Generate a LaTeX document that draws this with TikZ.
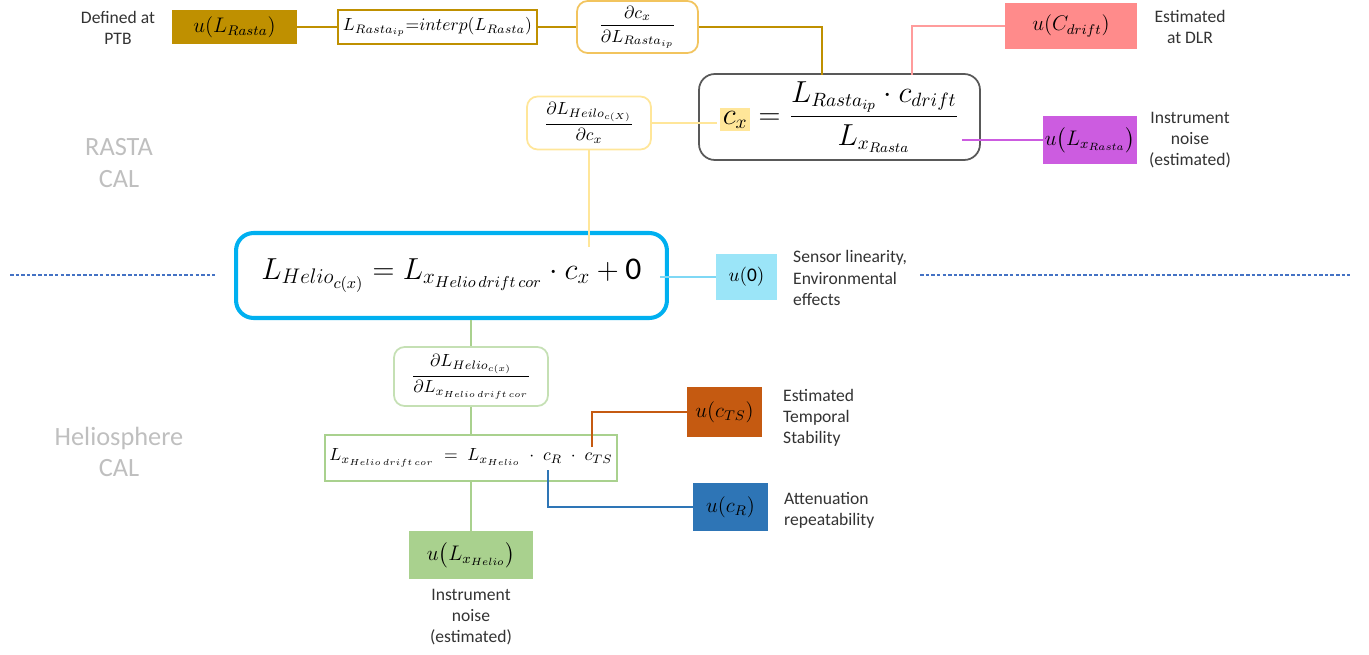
\documentclass[tikz,border=0pt]{standalone}
\usepackage{amsmath}
\usepackage{fontspec}
\setmainfont{Carlito}
\definecolor{gold}{HTML}{BF9000}
\definecolor{goldl}{HTML}{F2C45E}
\definecolor{yell}{HTML}{FFE699}
\definecolor{pinkf}{HTML}{FF8B8B}
\definecolor{pinkl}{HTML}{FF9C9C}
\definecolor{purp}{HTML}{CC5CE0}
\definecolor{cyanb}{HTML}{00B0F0}
\definecolor{cyanf}{HTML}{9BE5F8}
\definecolor{cyanl}{HTML}{7FD8F5}
\definecolor{greenl}{HTML}{C5E0B4}
\definecolor{greenm}{HTML}{A9D18E}
\definecolor{orng}{HTML}{C55A11}
\definecolor{blu}{HTML}{2E75B6}
\definecolor{divc}{HTML}{4472C4}
\tikzset{
  unc/.style={rectangle,inner sep=0pt,text=black,font=\fontsize{12}{14}\selectfont},
  eqb/.style={rectangle,fill=white,line width=1.1pt,inner sep=0pt,font=\fontsize{10}{12}\selectfont},
  drv/.style={rectangle,rounded corners=6pt,fill=white,line width=1pt,inner sep=0pt,font=\fontsize{10}{12}\selectfont},
  lnk/.style={line width=1.1pt},
  lb/.style={align=center,font=\fontsize{10}{12}\selectfont,text=black!80},
  sec/.style={align=center,font=\fontsize{15}{18}\selectfont,text=black!25},
  divl/.style={draw=divc,dashed,dash pattern=on 2pt off 1.2pt,line width=.6pt},
}
\begin{document}
\begin{tikzpicture}[x=0.02cm,y=-0.02cm]
\useasboundingbox (0,0) rectangle (1369,655);
% sections
\node[sec] (tRC) at (119,163) {RASTA\\CAL};
\node[sec] (tHC) at (119,452) {Heliosphere\\CAL};
\draw[divl] (10,275) -- (215,275) (920,275) -- (1350,275);

% RASTA CAL
\node[lb] (tPTB) at (118,28) {Defined at\\PTB};
\node[unc,fill=gold,minimum width=2.5cm,minimum height=.68cm] (uLR) at (234.5,27) {$u(L_{Rasta})$};
\node[eqb,draw=gold,minimum width=3.98cm,minimum height=.68cm] (ip) at (437.5,27)
  {$L_{Rasta_{ip}}{=}interp(L_{Rasta})$};
\node[drv,draw=goldl,minimum width=2.42cm,minimum height=1.04cm] (dcx) at (637.5,27)
  {$\dfrac{\partial c_x}{\partial L_{Rasta_{ip}}}$};
\node[drv,draw=black!65,rounded corners=9pt,minimum width=5.62cm,minimum height=1.72cm,
  font=\fontsize{16}{18}\selectfont] (cx) at (839.5,117)
  {\setlength{\fboxsep}{1.5pt}\colorbox{yell}{$c_x$}$\;=\dfrac{L_{Rasta_{ip}}\cdot c_{drift}}{L_{x_{Rasta}}}$};
\node[unc,fill=pinkf,minimum width=2.64cm,minimum height=.92cm] (uCd) at (1071,26) {$u(C_{drift})$};
\node[lb] (tDLR) at (1190,27) {Estimated\\at DLR};
\node[unc,fill=purp,minimum width=1.88cm,minimum height=.98cm] (uLx) at (1090,140) {$u\bigl(L_{x_{Rasta}}\bigr)$};
\node[lb] (tNR) at (1190,140) {Instrument\\noise\\(estimated)};
\node[drv,draw=yell,minimum width=2.48cm,minimum height=1.06cm] (dHc) at (589,123)
  {$\dfrac{\partial L_{Heilo_{c(X)}}}{\partial c_x}$};

% Heliosphere CAL
\node[drv,draw=cyanb,line width=2.3pt,rounded corners=10pt,minimum width=8.62cm,minimum height=1.7cm,
  font=\fontsize{18}{20}\selectfont] (hel) at (451.5,275.5)
  {$L_{Helio_{c(x)}}=L_{x_{Helio\,drift\,cor}}\cdot c_x+\text{0}$};
\node[unc,fill=cyanf,minimum width=1.22cm,minimum height=.92cm,font=\fontsize{11}{13}\selectfont] (u0) at (746.5,277) {$u(\text{0})$};
\node[lb,anchor=west,align=left] (tSL) at (787,278) {Sensor linearity,\\Environmental\\effects};
\node[drv,draw=greenl,minimum width=3.08cm,minimum height=1.18cm] (dHL) at (471,376.5)
  {$\dfrac{\partial L_{Helio_{c(x)}}}{\partial L_{x_{Helio\,drift\,cor}}}$};
\node[eqb,draw=greenm,minimum width=5.84cm,minimum height=.92cm,font=\fontsize{10}{12}\selectfont] (eqH) at (471,458)
  {$L_{x_{Helio\,drift\,cor}}\;=\;L_{x_{Helio}}\;\cdot\;c_R\;\cdot\;c_{TS}$};
\node[unc,fill=greenm,minimum width=2.48cm,minimum height=.96cm] (uLH) at (471,555) {$u\bigl(L_{x_{Helio}}\bigr)$};
\node[lb] (tNH) at (471,617) {Instrument\\noise\\(estimated)};
\node[unc,fill=orng,minimum width=1.5cm,minimum height=1cm] (uTS) at (724.5,412) {$u(c_{TS})$};
\node[lb,anchor=west,align=left] (tTS) at (777,418) {Estimated\\Temporal\\Stability};
\node[unc,fill=blu,minimum width=1.5cm,minimum height=.96cm] (uR) at (730.5,507) {$u(c_R)$};
\node[lb,anchor=west,align=left] (tR) at (778,510) {Attenuation\\repeatability};

% connectors
\coordinate (cxT1) at (822,75);
\coordinate (cxT2) at (912,75);
\coordinate (cxR) at (962,140);
\coordinate (cxL) at (717,123);
\coordinate (helT) at (589,247);
\coordinate (helR) at (660,277);
\coordinate (cTS) at (592,447);
\coordinate (cR) at (548,470);
\draw[lnk,gold] (uLR) -- (ip) (ip) -- (dcx) (dcx.east) -| (cxT1);
\draw[lnk,pinkl] (cxT2) |- (uCd.west);
\draw[lnk,purp] (cxR) -- (uLx.west);
\draw[lnk,yell] (dHc.east) -- (cxL) (dHc.south) -- (helT);
\draw[lnk,cyanl] (helR) -- (u0.west);
\draw[lnk,greenm] (hel.south -| dHL.north) -- (dHL.north) (dHL) -- (eqH) (eqH) -- (uLH);
\draw[lnk,orng] (cTS) |- (uTS.west);
\draw[lnk,blu] (cR) |- (uR.west);
\end{tikzpicture}
\end{document}
